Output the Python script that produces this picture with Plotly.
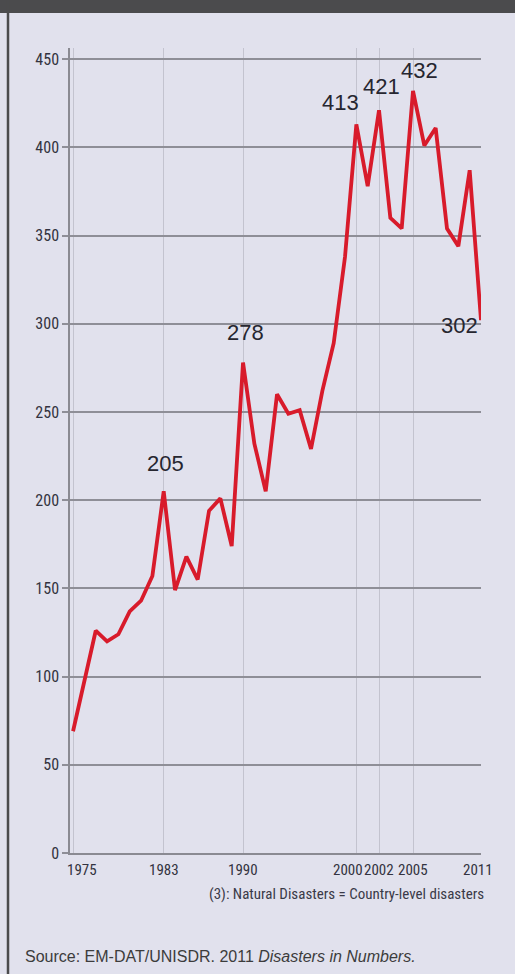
import plotly.graph_objects as go

# ---- data ----
years = list(range(1975, 2012))
disasters = [69, 97, 126, 120, 124, 137, 143, 157, 205, 149, 168, 155, 194, 201, 174,
             278, 232, 205, 260, 249, 251, 229, 262, 289, 338, 413, 378, 421, 360, 354,
             432, 401, 411, 354, 344, 387, 302]
labeled_years = [1983, 1990, 2000, 2002, 2005, 2011]
x_tick_years = [1975, 1983, 1990, 2000, 2002, 2005, 2011]
y_ticks = [0, 50, 100, 150, 200, 250, 300, 350, 400, 450]
note_text = "(3): Natural Disasters = Country-level disasters"
source_text = "Source: EM-DAT/UNISDR. 2011 <i>Disasters in Numbers.</i>"

# ---- layout geometry (pixels) ----
W, H = 515, 974
ML, MR, MT, MB = 70, 34, 48, 121
PW, PH = W - ML - MR, H - MT - MB


def px_x(px):
    return (px - ML) / PW


def px_y(py):
    return (H - MB - py) / PH


NARROW = "Roboto Condensed, Liberation Sans Narrow, DejaVu Sans Condensed, sans-serif"
REG = "Liberation Sans, Arial, sans-serif"
BG = "#e1e1ed"
RED = "#d81b2b"
TXT = "#333340"

fig = go.Figure()
fig.add_trace(go.Scatter(x=years, y=disasters, mode="lines",
                         line=dict(color=RED, width=3.8), hoverinfo="x+y",
                         showlegend=False))

annotations = []

# data labels
label_offsets = {1983: (2, 28), 1990: (2, 30), 2000: (-16, 22), 2002: (2, 24),
                 2005: (6, 20), 2011: (-22, -5)}
for yr in labeled_years:
    v = disasters[years.index(yr)]
    dx, dy = label_offsets[yr]
    annotations.append(dict(x=yr, y=v, xref="x", yref="y", text=str(v), showarrow=False,
                            xanchor="center", yanchor="middle", xshift=dx, yshift=dy,
                            font=dict(family=REG, size=22, color="#262630")))

# x tick labels (drawn as text so crowded labels can be nudged apart)
tick_nudge = {1975: 9, 2000: -8, 2011: -3}
for t in x_tick_years:
    annotations.append(dict(x=t, y=px_y(870), xref="x", yref="paper", text=str(t),
                            showarrow=False, xanchor="center", yanchor="middle",
                            xshift=tick_nudge.get(t, 0),
                            font=dict(family=NARROW, size=15, color=TXT)))

annotations.append(dict(x=px_x(486), y=px_y(894), xref="paper", yref="paper",
                        text=note_text, showarrow=False, xanchor="right", yanchor="middle",
                        font=dict(family=NARROW, size=15, color="#3a3a48")))
annotations.append(dict(x=px_x(23), y=px_y(957), xref="paper", yref="paper",
                        text=source_text, showarrow=False, xanchor="left", yanchor="middle",
                        font=dict(family=REG, size=16, color="#3c3c3c")))

shapes = [
    # dark top band
    dict(type="rect", xref="paper", yref="paper", x0=px_x(0), x1=px_x(W),
         y0=px_y(13), y1=px_y(0), fillcolor="#4b4b4d", line=dict(width=0), layer="above"),
    # left border line
    dict(type="line", xref="paper", yref="paper", x0=px_x(8), x1=px_x(8),
         y0=px_y(H), y1=px_y(0), line=dict(color="#4b4b4d", width=2.5), layer="above"),
]

fig.update_layout(
    width=W, height=H,
    margin=dict(l=ML, r=MR, t=MT, b=MB, pad=0),
    paper_bgcolor=BG, plot_bgcolor=BG,
    annotations=annotations, shapes=shapes,
    xaxis=dict(range=[1974.73, 2011], tickvals=x_tick_years, showticklabels=False,
               showgrid=True, gridcolor="#c3c3cf", gridwidth=1,
               showline=True, linecolor="#8a8a92", linewidth=1.5,
               ticks="", zeroline=False),
    yaxis=dict(range=[0, 456.3], tickvals=y_ticks,
               showgrid=True, gridcolor="#8e8e97", gridwidth=1.5,
               showline=True, linecolor="#8a8a92", linewidth=1.5,
               ticks="outside", ticklen=6, tickcolor="#8e8e97", tickwidth=1.5,
               zeroline=False,
               tickfont=dict(family=NARROW, size=16, color=TXT)),
)

fig.write_html("out.html", config={"displayModeBar": False},
               post_script="document.body.style.margin='0';")
